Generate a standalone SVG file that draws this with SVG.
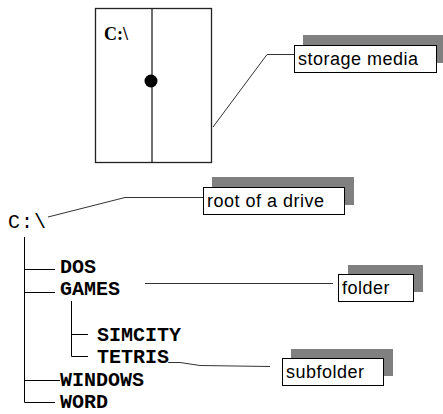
<svg xmlns="http://www.w3.org/2000/svg" width="443" height="414" viewBox="0 0 443 414">
<style>
.bg{fill:#ffffff}
.shadow{fill:#808080}
.box{fill:#ffffff;stroke:#000000;stroke-width:1}
.lbl{font-family:"Liberation Sans",Arial,sans-serif;font-size:18px;letter-spacing:0.5px;fill:#000000}
.mono{font-family:"Liberation Mono","Courier New",monospace;font-size:20px;font-weight:bold;fill:#000000}
.ln{fill:none;stroke:#000000;stroke-width:1}
.cn{fill:none;stroke:#333333;stroke-width:1}
</style>
<rect class="bg" x="0" y="0" width="443" height="414"/>
<g id="drive">
  <rect x="95.5" y="8.5" width="116" height="154" fill="#ffffff" stroke="#222222" stroke-width="1.3"/>
  <line x1="152" y1="8.5" x2="152" y2="162.5" stroke="#222222" stroke-width="1.3"/>
  <circle cx="151" cy="81" r="6.5" fill="#000000"/>
  <text x="104" y="40" font-family="'Liberation Serif','Times New Roman',serif" font-size="18" font-weight="bold">C:\</text>
</g>
<g id="label-storage">
  <rect class="shadow" x="303" y="35" width="140" height="28"/>
  <rect class="box" x="294.5" y="45.5" width="142" height="27"/>
  <text class="lbl" x="298" y="65">storage media</text>
</g>
<g id="label-root">
  <rect class="shadow" x="212" y="177" width="142" height="28"/>
  <rect class="box" x="203.5" y="187.5" width="141" height="27"/>
  <text class="lbl" x="207" y="207">root of a drive</text>
</g>
<g id="label-folder">
  <rect class="shadow" x="348" y="265" width="75" height="27"/>
  <rect class="box" x="338.5" y="274.5" width="75" height="27"/>
  <text class="lbl" x="342" y="294">folder</text>
</g>
<g id="label-subfolder">
  <rect class="shadow" x="291" y="349" width="102" height="27"/>
  <rect class="box" x="282.5" y="358.5" width="101" height="27"/>
  <text class="lbl" x="286" y="378">subfolder</text>
</g>
<g id="root">
  <text class="mono" x="8" y="228" style="font-weight:normal;letter-spacing:1px">C:\</text>
</g>
<g id="dos"><text class="mono" x="60" y="273">DOS</text></g>
<g id="games"><text class="mono" x="60" y="295">GAMES</text></g>
<g id="simcity"><text class="mono" x="97" y="341">SIMCITY</text></g>
<g id="tetris"><text class="mono" x="97" y="363">TETRIS</text></g>
<g id="windows"><text class="mono" x="60" y="386">WINDOWS</text></g>
<g id="word"><text class="mono" x="60" y="408">WORD</text></g>
<g id="connectors">
  <polyline class="ln" points="24.5,237 24.5,402.5 55,402.5"/>
  <line class="ln" x1="24.5" y1="269.5" x2="55" y2="269.5"/>
  <line class="ln" x1="24.5" y1="292.5" x2="55" y2="292.5"/>
  <line class="ln" x1="24.5" y1="380.5" x2="60" y2="380.5"/>
  <polyline class="ln" points="71.5,301 71.5,356.5 88,356.5"/>
  <line class="ln" x1="71.5" y1="334.5" x2="88" y2="334.5"/>
  <polyline class="cn" points="213,127 267,54.5 294,54.5"/>
  <polyline class="cn" points="48,217 125,197.5 203,197.5"/>
  <line class="cn" x1="145" y1="283.5" x2="333" y2="283.5"/>
  <polyline class="cn" points="168,362.5 180,362.5 200,365.5 270,366.5"/>
</g>
</svg>
